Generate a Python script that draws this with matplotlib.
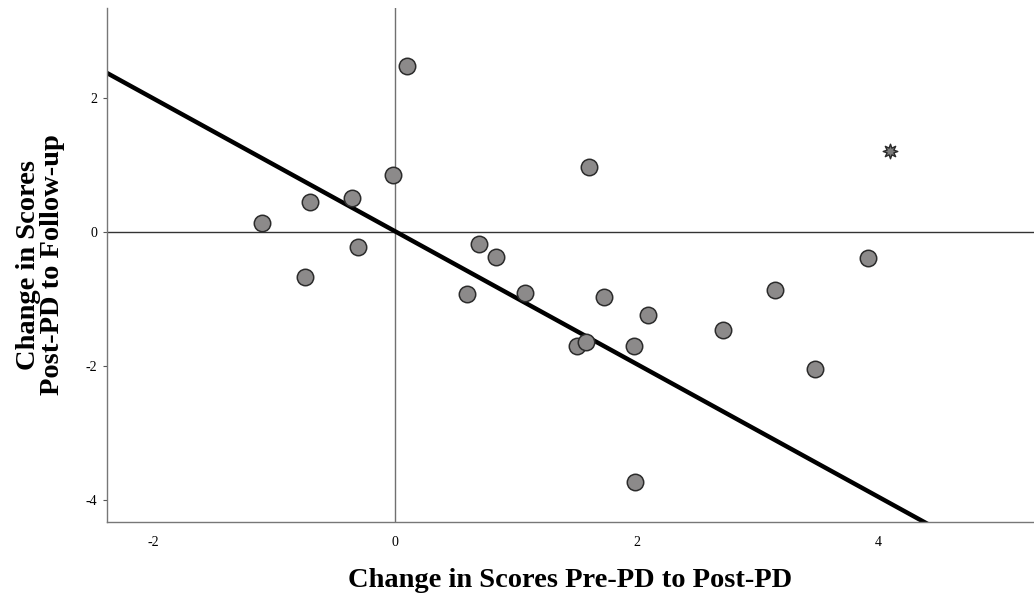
import matplotlib.pyplot as plt
import numpy as np

# change scores
pre_to_post = [-1.10, -0.70, -0.74, -0.35, -0.30, -0.01, 0.10, 0.60, 0.70, 0.84,
               1.08, 1.61, 1.51, 1.58, 1.73, 1.98, 2.10, 1.99, 2.72, 3.15, 3.48, 3.92]
post_to_follow = [0.13, 0.45, -0.67, 0.51, -0.22, 0.85, 2.48, -0.93, -0.18, -0.37,
                  -0.91, 0.97, -1.70, -1.64, -0.97, -1.70, -1.24, -3.73, -1.46, -0.87, -2.04, -0.39]

# extreme case drawn with a star
outlier_x = [4.10]
outlier_y = [1.21]

# fitted line
fit_slope = -0.991
fit_intercept = 0.011

x_ticks = [-2, 0, 2, 4]
y_ticks = [-4, -2, 0, 2]

plt.rcParams["font.family"] = ["Liberation Serif", "DejaVu Serif"]
plt.rcParams["axes.unicode_minus"] = False

fig = plt.figure(figsize=(10.34, 5.96), dpi=100)
ax = fig.add_axes([0.1035, 0.1242, 0.8965, 0.8624])

ax.set_xlim(-2.38, 5.29)
ax.set_ylim(-4.33, 3.34)

ax.axvline(0, color="#707070", linewidth=1.0, zorder=1)
ax.axhline(0, color="#333333", linewidth=1.0, zorder=1)

xs = np.array([-3.0, 6.0])
ax.plot(xs, fit_intercept + fit_slope * xs, color="black", linewidth=3.2,
        solid_capstyle="butt", zorder=2)

ax.scatter(pre_to_post, post_to_follow, s=140, color="#8c8a8a",
           edgecolor="#2b2b2b", linewidth=1.1, zorder=3)
ax.scatter(outlier_x, outlier_y, s=110, marker=(8, 1, 0), color="#7a7a7a",
           edgecolor="#2b2b2b", linewidth=1.0, zorder=3)

for side in ["top", "right"]:
    ax.spines[side].set_visible(False)
for side in ["left", "bottom"]:
    ax.spines[side].set_color("#777777")
    ax.spines[side].set_linewidth(1.0)

ax.set_xticks(x_ticks)
ax.set_yticks(y_ticks)
ax.tick_params(axis="x", length=0, pad=10, labelsize=10)
ax.tick_params(axis="y", length=3, width=0.8, color="#555555", pad=4, labelsize=10)

ax.set_xlabel("Change in Scores Pre-PD to Post-PD", fontsize=20.5, fontweight="bold",
              labelpad=14)
ax.set_ylabel("Change in Scores\nPost-PD to Follow-up", fontsize=20.5, fontweight="bold",
              labelpad=15, linespacing=0.95)

fig.savefig("out.png", dpi=100)
